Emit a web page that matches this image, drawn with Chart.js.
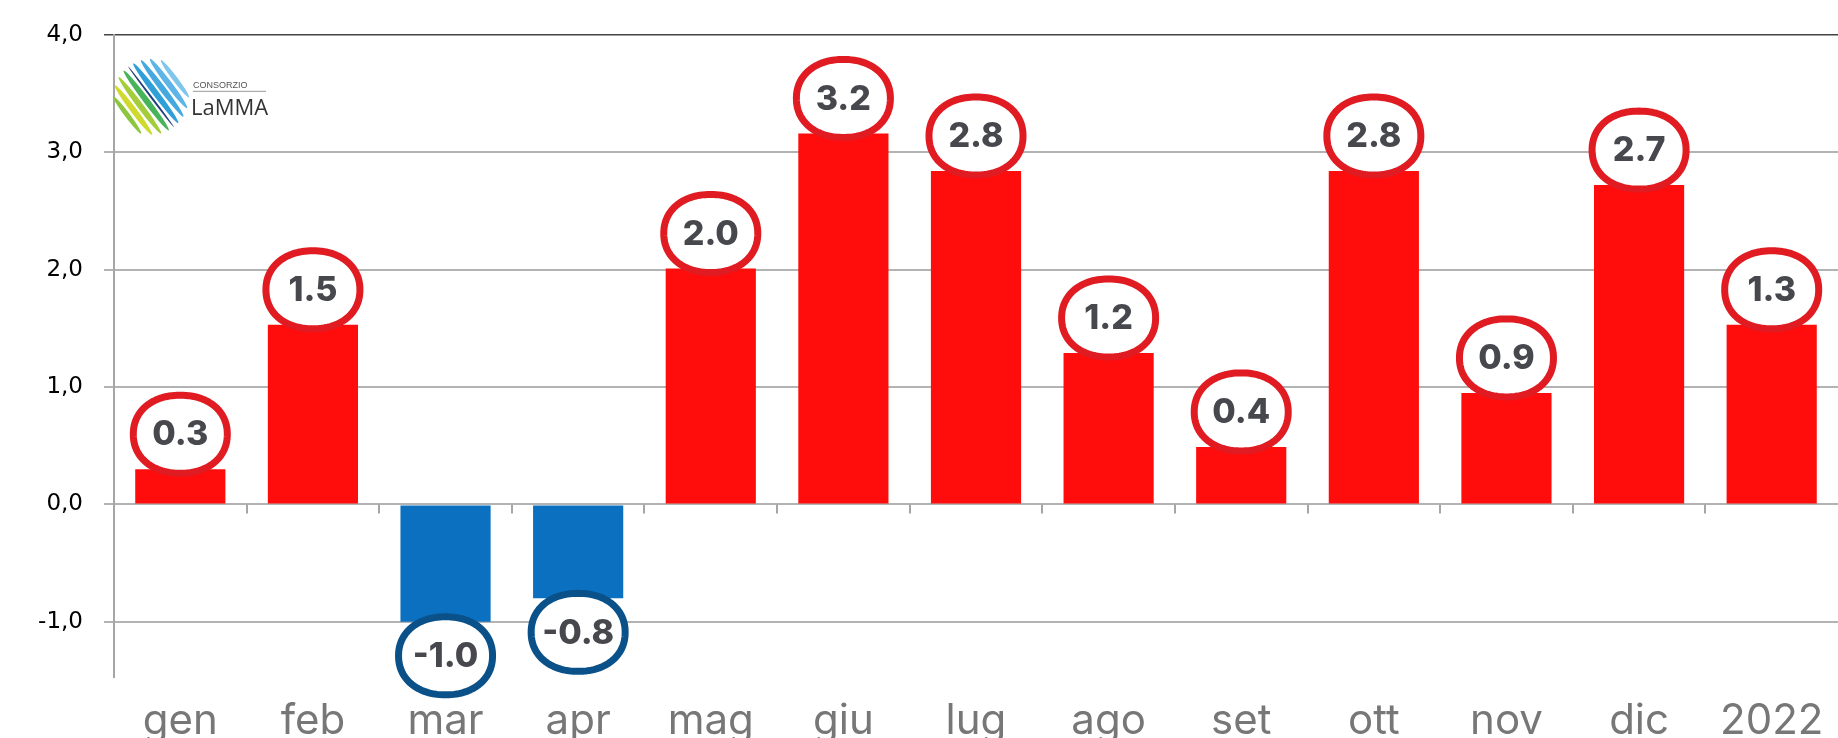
<!DOCTYPE html>
<html>
<head>
<meta charset="utf-8">
<script src="https://cdn.jsdelivr.net/npm/chart.js@4"></script>
<style>
  html, body { margin: 0; padding: 0; background: #fff; }
  #wrap { width: 1838px; height: 738px; }
</style>
</head>
<body>
<div id="wrap"><canvas id="chart" width="1838" height="738"></canvas></div>
<script>
// anomalie mensili (barre) e valori scritti nei fumetti
const months = ["gen", "feb", "mar", "apr", "mag", "giu", "lug", "ago", "set", "ott", "nov", "dic", "2022"];
const anomalies = [0.30, 1.53, -1.00, -0.80, 2.01, 3.16, 2.84, 1.29, 0.49, 2.84, 0.95, 2.72, 1.53];
const bubbleLabels = ["0.3", "1.5", "-1.0", "-0.8", "2.0", "3.2", "2.8", "1.2", "0.4", "2.8", "0.9", "2.7", "1.3"];
const yTicks = [-1, 0, 1, 2, 3, 4];

const RED = "#ff0d0d", BLUE = "#0b70c0";
const RED_RING = "#e01b22", BLUE_RING = "#0b5189";

// contorno arrotondato dei fumetti (superellisse)
function squircle(ctx, cx, cy, a, b, n) {
    ctx.beginPath();
    for (let k = 0; k <= 120; k++) {
        const t = k / 120 * Math.PI * 2;
        const c = Math.cos(t), s = Math.sin(t);
        const x = cx + a * Math.sign(c) * Math.pow(Math.abs(c), 2 / n);
        const y = cy + b * Math.sign(s) * Math.pow(Math.abs(s), 2 / n);
        if (k === 0) ctx.moveTo(x, y); else ctx.lineTo(x, y);
    }
    ctx.closePath();
}

// fumetti con il valore sopra/sotto ogni barra
const bubbles = {
    id: "bubbles",
    afterDatasetsDraw(chart) {
        const ctx = chart.ctx;
        const meta = chart.getDatasetMeta(0);
        ctx.save();
        meta.data.forEach((bar, i) => {
            const neg = anomalies[i] < 0;
            const cx = bar.x;
            const cy = neg ? bar.y + 34 : bar.y - 35;
            squircle(ctx, cx, cy, 47, 39, 2.15);
            ctx.fillStyle = "#fff";
            ctx.fill();
            ctx.lineWidth = 7;
            ctx.lineJoin = "round";
            ctx.strokeStyle = neg ? BLUE_RING : RED_RING;
            ctx.stroke();
            ctx.fillStyle = "#47484e";
            ctx.font = "800 34px Inter";
            ctx.textAlign = "center";
            ctx.textBaseline = "middle";
            ctx.fillText(bubbleLabels[i], cx, cy + 1);
        });
        ctx.restore();
    }
};

// tacche dell'asse x sulla linea dello zero
const zeroTicks = {
    id: "zeroTicks",
    afterDraw(chart) {
        const ctx = chart.ctx;
        const x = chart.scales.x, y = chart.scales.y;
        const y0 = y.getPixelForValue(0);
        const half = (x.getPixelForValue(1) - x.getPixelForValue(0)) / 2;
        ctx.save();
        ctx.strokeStyle = "#a6a6a6";
        ctx.lineWidth = 2;
        for (let i = 1; i < months.length; i++) {
            const px = Math.round(x.getPixelForValue(i) - half);
            ctx.beginPath();
            ctx.moveTo(px, y0);
            ctx.lineTo(px, y0 + 9);
            ctx.stroke();
        }
        ctx.restore();
    }
};

// logo LaMMA in alto a sinistra
const logo = {
    id: "logo",
    afterDraw(chart) {
        const ctx = chart.ctx;
        const a = chart.chartArea;
        const cx = a.left + 37, cy = a.top + 62, R = 38;
        const ang = 53 * Math.PI / 180;
        const px = Math.sin(ang), py = -Math.cos(ang);
        const stripes = [
            [-30, "#8cc63f", 5], [-22, "#cfdb2c", 6], [-14, "#a3cd3a", 6], [-6, "#47b45a", 6],
            [0, "#1f3f7e", 2], [6, "#2f9fd8", 6], [14, "#45a9e0", 6], [22, "#5cb5e6", 6], [30, "#7fc6ec", 5]
        ];
        ctx.save();
        stripes.forEach(([o, c, wd]) => {
            const half = Math.sqrt(Math.max(R * R - o * o, 20));
            ctx.beginPath();
            ctx.ellipse(cx + px * o, cy + py * o, half, wd / 2, ang, 0, Math.PI * 2);
            ctx.fillStyle = c;
            ctx.fill();
        });
        ctx.fillStyle = "#555";
        ctx.font = "9px 'Liberation Sans'";
        ctx.textBaseline = "alphabetic";
        ctx.textAlign = "left";
        ctx.fillText("CONSORZIO", a.left + 79, a.top + 53);
        ctx.strokeStyle = "#999";
        ctx.lineWidth = 1;
        ctx.beginPath();
        ctx.moveTo(a.left + 79, a.top + 56.5);
        ctx.lineTo(a.left + 152, a.top + 56.5);
        ctx.stroke();
        ctx.fillStyle = "#333";
        ctx.font = "22px 'Open Sans'";
        ctx.fillText("LaMMA", a.left + 77, a.top + 80);
        ctx.restore();
    }
};

new Chart(document.getElementById("chart"), {
    type: "bar",
    data: {
        labels: months,
        datasets: [{
            data: anomalies,
            backgroundColor: anomalies.map(v => v < 0 ? BLUE : RED),
            borderWidth: 0,
            categoryPercentage: 1,
            barPercentage: 0.68
        }]
    },
    options: {
        responsive: false,
        devicePixelRatio: 1,
        animation: false,
        layout: { padding: { top: 30, right: 0, left: 0, bottom: 0 } },
        plugins: {
            legend: { display: false },
            tooltip: { enabled: false }
        },
        scales: {
            x: {
                grid: { display: false },
                border: { display: false },
                ticks: {
                    color: "#777",
                    font: { family: "Inter", size: 42 },
                    padding: 11,
                    maxRotation: 0,
                    autoSkip: false
                },
                afterFit(s) { s.height = 61; }
            },
            y: {
                min: -1.47,
                max: 4,
                afterBuildTicks(s) { s.ticks = yTicks.map(v => ({ value: v })); },
                afterFit(s) { s.width = 114; },
                grid: {
                    color: c => c.tick && c.tick.value === 4 ? "#444" : "#b3b3b3",
                    lineWidth: c => c.tick && c.tick.value === 4 ? 1.5 : 2,
                    tickLength: 10
                },
                border: { display: true, color: "#a6a6a6", width: 2 },
                ticks: {
                    color: "#000",
                    padding: 21,
                    font: { family: "DejaVu Sans", size: 23 },
                    callback: v => v.toFixed(1).replace(".", ",")
                }
            }
        }
    },
    plugins: [bubbles, zeroTicks, logo]
});
</script>
</body>
</html>
